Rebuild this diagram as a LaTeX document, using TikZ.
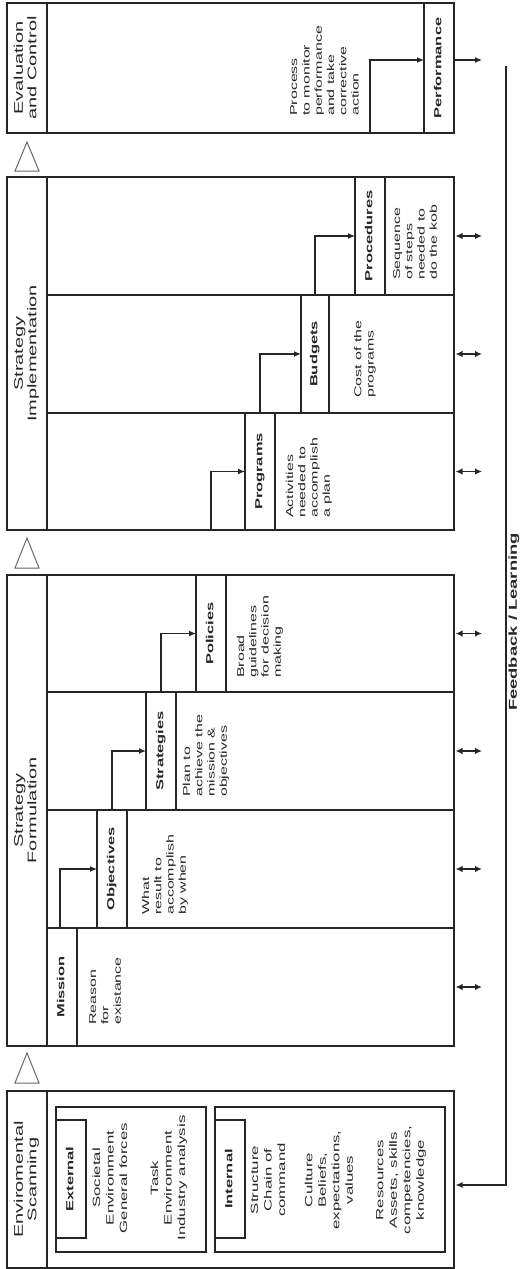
\documentclass[tikz,border=0pt]{standalone}
\usepackage{fontspec}
\setmainfont{Liberation Sans}
\usetikzlibrary{arrows.meta,calc}
\newcommand{\vt}[2]{\scalebox{1.6}[1]{\begin{tabular}{@{}#1@{}}#2\end{tabular}}}
\begin{document}
\begin{tikzpicture}[x=1pt,y=-1pt,
  cell/.style={draw=black!85, line width=1.3pt, rectangle, inner sep=0pt, outer sep=0pt, anchor=north west},
  vtext/.style={rotate=90, inner sep=0pt, text=black!85},
  hdr/.style={vtext, font=\fontsize{12.5}{13.5}\selectfont},
  lbl/.style={vtext, font=\bfseries\fontsize{10.3}{12}\selectfont},
  desc/.style={vtext, anchor=west, font=\fontsize{10}{12.3}\selectfont},
  envt/.style={vtext, font=\fontsize{10.5}{13.5}\selectfont},
  fb/.style={vtext, font=\bfseries\fontsize{11.5}{13}\selectfont},
  arr/.style={draw=black!85, line width=1.2pt, -{Latex[length=7pt,width=6pt]}},
  dbl/.style={draw=black!85, line width=1.5pt, {Latex[length=7pt,width=6.5pt]}-{Latex[length=7pt,width=6.5pt]}},
  tri/.style={draw=black!60, line width=1pt, line join=miter}
]
\useasboundingbox (0,0) rectangle (520,1269);

% ---------------- outer boxes and headers
\node[cell, minimum width=447pt, minimum height=130pt] (eval) at (7,3) {};
\node[cell, minimum width=40pt, minimum height=130pt] (evalh) at (7,3) {};
\node[cell, minimum width=447pt, minimum height=353pt] (impl) at (7,177) {};
\node[cell, minimum width=40pt, minimum height=353pt] (implh) at (7,177) {};
\node[cell, minimum width=447pt, minimum height=471pt] (form) at (7,575) {};
\node[cell, minimum width=40pt, minimum height=471pt] (formh) at (7,575) {};
\node[cell, minimum width=447pt, minimum height=177pt] (env) at (7,1091) {};
\node[cell, minimum width=40pt, minimum height=177pt] (envh) at (7,1091) {};

\node[hdr] (evalT) at (evalh.center) {\vt{c}{Evaluation\\and Control}};
\node[hdr] (implT) at (implh.center) {\vt{c}{Strategy\\Implementation}};
\node[hdr] (formT) at (formh.center) {\vt{c}{Strategy\\Formulation}};
\node[hdr] (envT) at (envh.center) {\vt{c}{Enviromental\\Scanning}};

% ---------------- rows
\node[cell, minimum width=407pt, minimum height=118pt] (procrow) at (47,177) {};
\node[cell, minimum width=407pt, minimum height=118pt] (budrow) at (47,295) {};
\node[cell, minimum width=407pt, minimum height=117pt] (progrow) at (47,413) {};
\node[cell, minimum width=407pt, minimum height=117pt] (polrow) at (47,575) {};
\node[cell, minimum width=407pt, minimum height=118pt] (strrow) at (47,692) {};
\node[cell, minimum width=407pt, minimum height=118pt] (objrow) at (47,810) {};
\node[cell, minimum width=407pt, minimum height=118pt] (misrow) at (47,928) {};

% ---------------- columns with bold labels
\node[cell, minimum width=30pt, minimum height=130pt] (perf) at (424,3) {};
\node[cell, minimum width=30pt, minimum height=118pt] (proc) at (355,177) {};
\node[cell, minimum width=28pt, minimum height=118pt] (bud) at (301,295) {};
\node[cell, minimum width=30pt, minimum height=117pt] (prog) at (245,413) {};
\node[cell, minimum width=30pt, minimum height=117pt] (pol) at (196,575) {};
\node[cell, minimum width=30pt, minimum height=118pt] (str) at (146,692) {};
\node[cell, minimum width=30pt, minimum height=118pt] (obj) at (97,810) {};
\node[cell, minimum width=30pt, minimum height=118pt] (mis) at (47,928) {};

\node[lbl] (perfL) at (perf.center) {\vt{c}{Performance}};
\node[lbl] (procL) at (proc.center) {\vt{c}{Procedures}};
\node[lbl] (budL) at (bud.center) {\vt{c}{Budgets}};
\node[lbl] (progL) at (prog.center) {\vt{c}{Programs}};
\node[lbl] (polL) at (pol.center) {\vt{c}{Policies}};
\node[lbl] (strL) at (str.center) {\vt{c}{Strategies}};
\node[lbl] (objL) at (obj.center) {\vt{c}{Objectives}};
\node[lbl] (misL) at (mis.center) {\vt{c}{Mission}};

% ---------------- descriptions
\node[desc] (evalD) at (325.5,116) {\vt{l}{Process\\to monitor\\performance\\and take\\corrective\\action}};
\node[desc] (procD) at (416,280) {\vt{l}{Sequence\\of steps\\needed to\\do the kob}};
\node[desc] (budD) at (365,398) {\vt{l}{Cost of the\\programs}};
\node[desc] (progD) at (309,518) {\vt{l}{Activities\\needed to\\accomplish\\a plan}};
\node[desc] (polD) at (260,678) {\vt{l}{Broad\\guidelines\\for decision\\making}};
\node[desc] (strD) at (206,797) {\vt{l}{Plan to\\achieve the\\mission \&\\objectives}};
\node[desc] (objD) at (165,915) {\vt{l}{What\\result to\\accomplish\\by when}};
\node[desc] (misD) at (106,1025) {\vt{l}{Reason\\for\\existance}};

% ---------------- environmental scanning
\node[cell, minimum width=150pt, minimum height=145pt] (ext) at (56,1107) {};
\node[cell, minimum width=30pt, minimum height=118pt] (extl) at (56,1120) {};
\node[lbl] (extL) at (extl.center) {\vt{c}{External}};
\node[envt] (soc) at (111,1178) {\vt{c}{Societal\\Environment\\General forces}};
\node[envt] (task) at (169,1178) {\vt{c}{Task\\Environment\\Industry analysis}};

\node[cell, minimum width=230pt, minimum height=145pt] (int) at (215,1107) {};
\node[cell, minimum width=30pt, minimum height=118pt] (intl) at (215,1120) {};
\node[lbl] (intL) at (intl.center) {\vt{c}{Internal}};
\node[envt] (stru) at (269,1180) {\vt{c}{Structure\\Chain of\\command}};
\node[envt] (cult) at (330,1180) {\vt{c}{Culture\\Beliefs,\\expectations,\\values}};
\node[envt] (reso) at (401,1180) {\vt{c}{Resources\\Assets, skills\\competencies,\\knowledge}};

% ---------------- triangles between stages
\draw[tri] (27,142) -- (15,171) -- (39,171) -- cycle;
\draw[tri] (27,538) -- (15,568) -- (39,568) -- cycle;
\draw[tri] (27,1053) -- (15,1083) -- (39,1083) -- cycle;

% ---------------- step arrows
\coordinate (evf) at (370,133);
\coordinate (evk) at (370,60);
\draw[arr] (evf) -- (evk) -- (evk -| perf.west);
\coordinate (pout) at (482,60);
\draw[arr] (evk -| perf.east) -- (pout);

\draw[arr] (bud.north) |- (proc.west);
\draw[arr] (prog.north) |- (bud.west);
\coordinate (ipf) at (211,530);
\draw[arr] (ipf) |- (prog.west);
\draw[arr] (str.north) |- (pol.west);
\draw[arr] (obj.north) |- (str.west);
\draw[arr] ([xshift=-2pt]mis.north) |- (obj.west);

% ---------------- double arrows
\foreach \r in {procrow,budrow,progrow,polrow,strrow,objrow,misrow}
  \draw[dbl] ([xshift=1.5pt]\r.east) -- ([xshift=28pt]\r.east);

% ---------------- feedback loop
\coordinate (fbt) at (506,66);
\coordinate (fbc) at (506,1185);
\draw[arr] (fbt) -- (fbc) -- ([xshift=1.5pt]fbc -| env.east);
\node[fb] (fbT) at (514.3,622) {\vt{c}{Feedback / Learning}};
\end{tikzpicture}
\end{document}
